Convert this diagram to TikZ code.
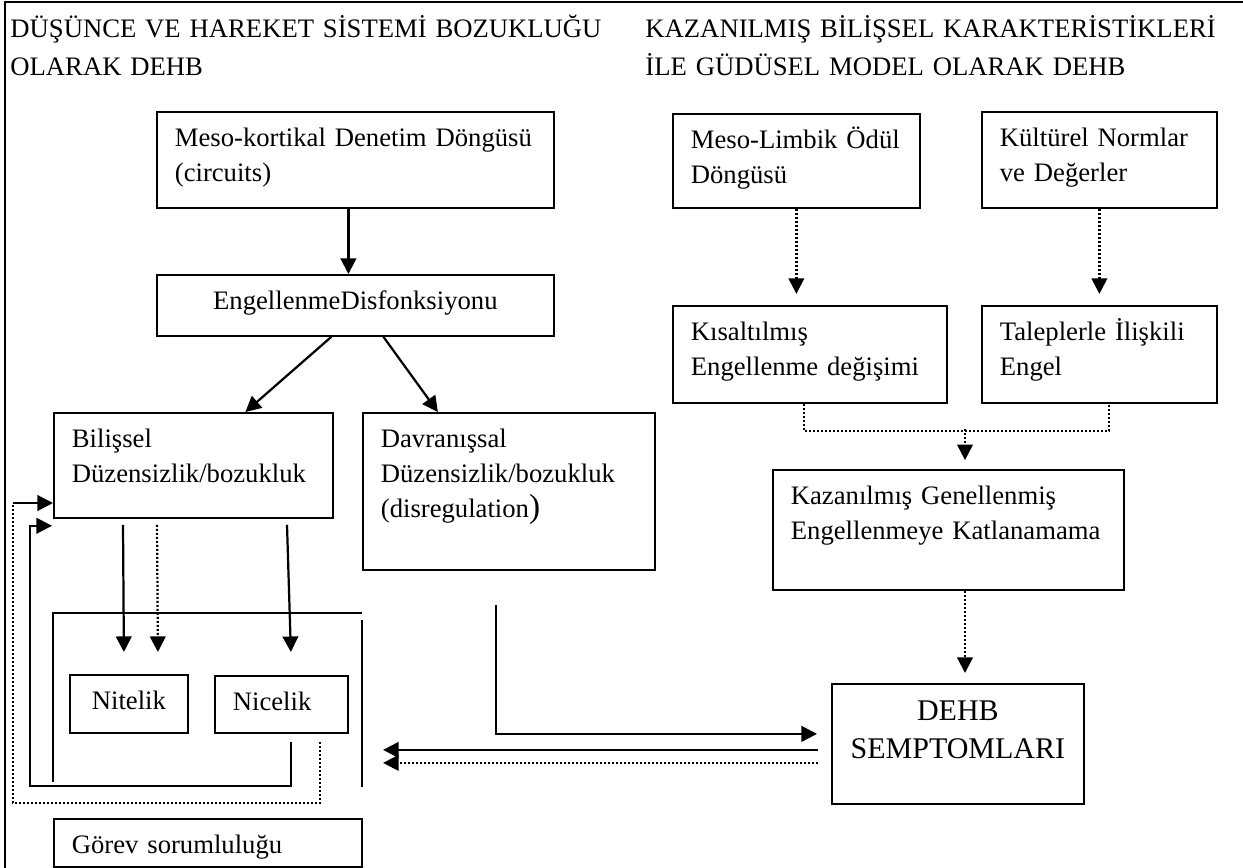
\documentclass[tikz,border=0pt]{standalone}
\usepackage{fontspec}
\setmainfont{Liberation Serif}
\usetikzlibrary{arrows.meta,calc}
\tikzset{
  kutu/.style={draw, line width=0.8pt, anchor=north west, align=left,
    inner xsep=8.1pt, inner ysep=0pt, text height=15.75pt,
    font=\fontsize{12}{15.75}\selectfont},
  baslik/.style={anchor=base west, align=left, inner sep=0pt, text width=270pt,
    font=\fontsize{12}{17.1}\selectfont},
  cizgi/.style={line width=0.8pt},
  ok/.style={line width=1pt, -{Triangle[length=7pt,width=7pt]}},
  noktali/.style={line width=1pt, dash pattern=on 0.9pt off 0.9pt},
  noktaok/.style={ok, noktali},
}
\begin{document}
\begin{tikzpicture}[x=0.45pt, y=-0.45pt]
\useasboundingbox (0,0) rectangle (1243,868);
\draw[line width=1pt] (5,868) -- (5,2) -- (1243,2);
\node[baslik] (baslik_sol) at (10,37) {DÜŞÜNCE VE HAREKET SİSTEMİ BOZUKLUĞU\\OLARAK DEHB};
\node[baslik] (baslik_sag) at (645,37) {KAZANILMIŞ BİLİŞSEL KARAKTERİSTİKLERİ\\İLE GÜDÜSEL MODEL OLARAK DEHB};
% sol taraf
\node[kutu, text width=162.45pt, text depth=27.45pt] (kortikal) at (156,111) {Meso-kortikal Denetim Döngüsü\\(circuits)};
\node[kutu, align=center, text width=162.45pt, text depth=11.7pt] (engel) at (156,274) {EngellenmeDisfonksiyonu};
\draw[ok] ($(kortikal.south)+(-7,0)$) -- ($(engel.north)+(-7,0)$);
\node[kutu, text width=109.35pt, text depth=31.5pt] (bilissel) at (53,412) {Bilişsel\\Düzensizlik/bozukluk};
\node[kutu, text width=115.2pt, text depth=54.9pt] (davranis) at (362,412) {Davranışsal\\Düzensizlik/bozukluk\\(disregulation{\fontsize{15}{15}\selectfont )}};
\draw[ok] ($(engel.south)+(-24,0)$) -- ($(bilissel.north)+(52,0)$);
\draw[ok] ($(engel.south)+(28,0)$) -- ($(davranis.north)+(-71,0)$);
\node[kutu, align=center, text width=36.9pt, text depth=10.35pt] (nitelik) at (69,674) {Nitelik};
\node[kutu, text width=43.65pt, text depth=9.9pt] (nicelik) at (214,675) {Nicelik};
\node[kutu, text width=122.4pt, text depth=5.85pt] (gorev) at (53,818) {Görev sorumluluğu};
\coordinate (kap_sol_ust) at (53,613);
\coordinate (kap_sag_ust) at (362,613);
\coordinate (kap_sol_alt) at (53,782);
\coordinate (kap_sag) at (362,620);
\coordinate (kap_sag_alt) at (362,787);
\draw[cizgi] (kap_sol_alt) -- (kap_sol_ust) -- (kap_sag_ust);
\draw[cizgi] (kap_sag) -- (kap_sag_alt);
\draw[ok] ($(bilissel.south west)+(70,6)$) -- ($(nitelik.north)+(-5,-22)$);
\draw[noktaok] ($(bilissel.south west)+(104,6)$) -- ($(nitelik.north)+(29,-22)$);
\draw[ok] ($(bilissel.south west)+(234,6)$) -- ($(nicelik.north)+(9.5,-23)$);
\coordinate (geri1) at (30,786);
\draw[ok] ($(nicelik.south)+(9.5,8)$) |- (geri1) |- ($(bilissel.south west)+(-1,7)$);
\coordinate (geri2) at (13,803);
\coordinate (geri3) at (13,503);
\draw[noktali] ($(nicelik.south east)+(-29,8)$) |- (geri2) -- (geri3);
\draw[ok] (geri3) -- (bilissel.west |- geri3);
% sag taraf
\node[kutu, text width=94.95pt, text depth=26.55pt] (limbik) at (672,113) {Meso-Limbik Ödül\\Döngüsü};
\node[kutu, text width=89.55pt, text depth=27.45pt] (kultur) at (981,111) {Kültürel Normlar\\ve Değerler};
\node[kutu, text width=107.1pt, text depth=27.9pt] (kisalt) at (672,305) {Kısaltılmış\\Engellenme değişimi};
\node[kutu, text width=89.55pt, text depth=27.9pt] (talep) at (981,305) {Taleplerle İlişkili\\Engel};
\draw[noktaok, shorten >=5pt] (limbik.south) -- (limbik.south |- kisalt.north);
\draw[noktaok, shorten >=5pt] (kultur.south) -- (kultur.south |- talep.north);
\node[kutu, text width=141.75pt, text depth=38.25pt] (kazan) at (772,469) {Kazanılmış Genellenmiş\\Engellenmeye Katlanamama};
\node[kutu, align=center, text width=97.2pt, text height=16.65pt, text depth=37.35pt,
  font=\fontsize{13.5}{17.1}\selectfont] (dehb) at (831,683) {DEHB\\SEMPTOMLARI};
\draw[noktali] ($(kisalt.south)+(-6,0)$) -- ++(0,27) -| ($(talep.south)+(9.5,0)$);
\coordinate (birles) at (965,429);
\draw[noktaok, shorten >=4pt] (birles) -- (birles |- kazan.north);
\draw[noktaok, shorten >=4.5pt] (birles |- kazan.south) -- (birles |- dehb.north);
\draw[ok, shorten >=6.3pt] ($(davranis.south west)+(134,34)$) |- ($(dehb.west)+(0,-10)$);
\coordinate (d1) at ($(dehb.west)+(0,6)$);
\coordinate (d2) at ($(dehb.west)+(0,19)$);
\draw[ok, shorten <=6pt, shorten >=9.5pt] (d1) -- (d1 -| kap_sag);
\draw[noktaok, shorten <=6pt, shorten >=9.5pt] (d2) -- (d2 -| kap_sag);
\end{tikzpicture}
\end{document}
